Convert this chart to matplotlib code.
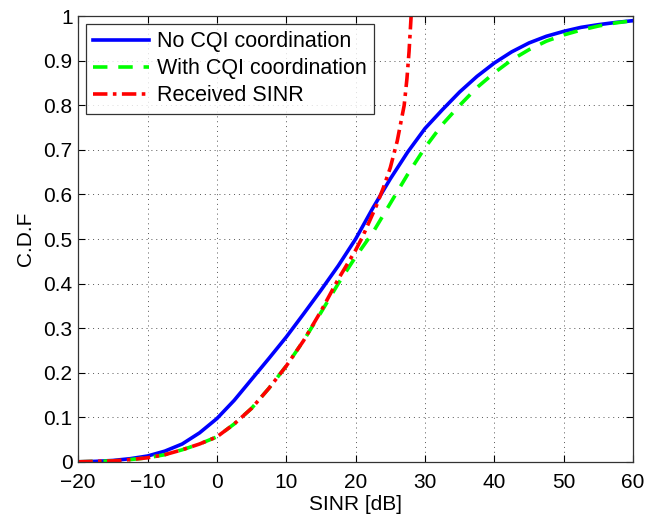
import matplotlib
matplotlib.use("Agg")
import matplotlib.pyplot as plt

plt.rcParams['font.family'] = ['Liberation Sans', 'DejaVu Sans']

# values
sinr_a = [-20, -17.5, -15, -12.5, -10, -7.5, -5, -2.5, 0, 2.5, 5, 7.5, 10, 12.5, 15, 17.5,
          20, 22.5, 25, 27.5, 30, 32.5, 35, 37.5, 40, 42.5, 45, 47.5, 50, 52.5, 55, 57.5, 60]
cdf_no_cqi = [0, 0.001, 0.003, 0.007, 0.013, 0.024, 0.04, 0.065, 0.097, 0.138, 0.185, 0.232,
              0.28, 0.332, 0.385, 0.44, 0.5, 0.57, 0.635, 0.695, 0.748, 0.79, 0.83, 0.865,
              0.895, 0.92, 0.94, 0.955, 0.966, 0.975, 0.981, 0.986, 0.99]
cdf_with_cqi = [0, 0.001, 0.002, 0.005, 0.009, 0.016, 0.027, 0.04, 0.056, 0.085, 0.12, 0.165,
                0.215, 0.272, 0.335, 0.4, 0.46, 0.515, 0.58, 0.645, 0.705, 0.757, 0.8, 0.84,
                0.873, 0.902, 0.925, 0.944, 0.958, 0.969, 0.978, 0.985, 0.99]

sinr_rx = [-20, -17.5, -15, -12.5, -10, -7.5, -5, -2.5, 0, 2.5, 5, 7.5, 10, 12.5, 15, 17.5,
           20, 21, 22, 23, 24, 25, 26, 26.5, 27, 27.4, 27.7, 28]
cdf_rx = [0, 0.001, 0.002, 0.005, 0.009, 0.016, 0.027, 0.04, 0.056, 0.085, 0.12, 0.165,
          0.215, 0.272, 0.338, 0.41, 0.475, 0.505, 0.54, 0.575, 0.615, 0.66, 0.72, 0.76,
          0.8, 0.86, 0.92, 1.0]

fig = plt.figure(figsize=(6.46, 5.23), dpi=100)
ax = fig.add_axes([0.121, 0.117, 0.859, 0.852])

ax.plot(sinr_a, cdf_no_cqi, color=(0, 0, 1), lw=2.6, label='No CQI coordination')
ax.plot(sinr_a, cdf_with_cqi, color=(0, 1, 0), lw=2.6, ls=(0, (4, 3)), label='With CQI coordination')
ax.plot(sinr_rx, cdf_rx, color=(1, 0, 0), lw=2.6, ls=(0, (4, 1.5, 1, 1.5)), label='Received SINR')

ax.set_xlim(-20, 60)
ax.set_ylim(0, 1)
ax.set_xticks(range(-20, 61, 10))
ax.set_yticks([i / 10 for i in range(11)])
ax.set_yticklabels(['0', '0.1', '0.2', '0.3', '0.4', '0.5', '0.6', '0.7', '0.8', '0.9', '1'])
ax.tick_params(direction='in', labelsize=15, top=True, right=True, length=5)
ax.tick_params(axis='x', pad=8)
ax.tick_params(axis='y', pad=4)
ax.grid(True, color='#555555', ls=(0, (1, 4)), lw=0.7)
for s in ax.spines.values():
    s.set_linewidth(0.9)
    s.set_color('#333333')

ax.set_xlabel('SINR [dB]', fontsize=15, labelpad=2)
ax.set_ylabel('C.D.F', fontsize=15, labelpad=6)

leg = ax.legend(loc='upper left', fontsize=15.5, frameon=True, fancybox=False,
                edgecolor='black', handlelength=2.6, borderaxespad=0.35,
                labelspacing=0.28, handletextpad=0.35, borderpad=0.35)
leg.get_frame().set_linewidth(0.9)

fig.savefig('out.png', dpi=100)
